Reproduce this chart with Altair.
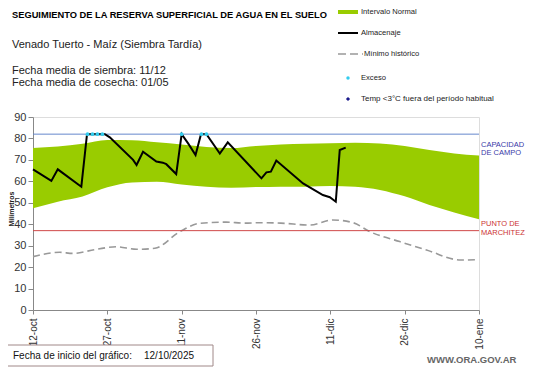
import json
import altair as alt
import pandas as pd

# ---------------- data ----------------
tick_days = [0, 15, 30, 45, 60, 75, 90]
tick_labels = ["12-oct", "27-oct", "11-nov", "26-nov", "11-dic", "26-dic", "10-ene"]
y_ticks = [0, 10, 20, 30, 40, 50, 60, 70, 80, 90]

band_days = [0, 5, 10, 15, 20, 25, 30, 35, 40, 45, 50, 55, 60, 65, 70, 75, 80, 85, 90]
band_upper = [75.5, 76.2, 77.5, 79.3, 79.2, 78.2, 77.2, 76.0, 75.5, 76.5, 77.2, 77.5, 77.8, 78.0, 77.6, 76.5, 74.6, 73.0, 72.0]
band_lower = [47.4, 50.5, 52.9, 57.2, 59.5, 59.8, 58.5, 57.5, 57.0, 57.3, 57.5, 57.5, 57.8, 57.5, 56.0, 53.0, 49.0, 45.5, 42.3]

alm_days = [0, 3.7, 5, 9.75, 10.9, 14.5, 15.5, 20.2, 20.9, 22.2, 24.9, 26.2, 26.9, 28.9, 30,
            31.3, 32.8, 33.9, 35, 37.7, 39.3, 46.1, 47.1, 48, 49.1, 54.5, 58.5, 59.9, 61.1, 61.9, 63.1]
alm_vals = [65.6, 60.2, 65.6, 57.5, 82, 82, 80.5, 70, 67.6, 73.8, 69.2, 68.7, 68, 63.4, 82,
            77.7, 72.3, 82, 82, 73, 78.2, 61.4, 64.2, 64.5, 69.7, 59, 53.6, 52.6, 50.5, 74.6, 75.7]

min_days = [0, 5.4, 8, 12.8, 16.8, 20.9, 24.6, 29.6, 33.6, 39, 42.7, 45.8, 50, 55.9, 60.5,
            64.6, 68, 74, 79.4, 86.3, 89.6]
min_vals = [24.9, 26.9, 26.4, 28.3, 29.5, 28.3, 28.8, 36.5, 40.4, 41, 40.5, 40.7, 40.5, 39.6, 42,
            40.7, 36.5, 31.9, 28, 23.3, 23.5]

exc_days = [11, 12, 13, 14, 30, 34, 35]
exc_vals = [82, 82, 82, 82, 82, 82, 82]

capacidad = 82
marchitez = 37

FONT = "Liberation Sans"
W, H = 446, 193

band_df = pd.DataFrame({"d": band_days, "lo": band_lower, "hi": band_upper})
alm_df = pd.DataFrame({"d": alm_days, "v": alm_vals})
min_df = pd.DataFrame({"d": min_days, "v": min_vals})
exc_df = pd.DataFrame({"d": exc_days, "v": exc_vals})
ref_df = pd.DataFrame({"v": [capacidad, marchitez], "k": ["cap", "mar"]})
one = pd.DataFrame({"a": [0]})

label_expr = json.dumps(tick_labels) + "[round(datum.value/15)]"

xs = alt.Scale(domain=[0, 90], nice=False, zero=False)
ys = alt.Scale(domain=[0, 90], nice=False)

x_axis = alt.Axis(values=tick_days, labelExpr=label_expr, labelAngle=270, labelFontSize=10,
                  labelColor="#333333", labelFont=FONT, domainColor="#888888", tickColor="#888888",
                  tickSize=4, grid=False, title=None, labelPadding=4, labelOverlap=False)
y_axis = alt.Axis(values=y_ticks, labelFontSize=11, labelColor="#333333",
                  labelFont=FONT, domainColor="#888888", tickColor="#888888", tickSize=5,
                  grid=False, title=None, labelPadding=2, labelOverlap=False, labelFlush=False)


def X(f):
    return alt.X(f, scale=xs, axis=x_axis)


def Y(f):
    return alt.Y(f, scale=ys, axis=y_axis)


band = alt.Chart(band_df).mark_area(color="#99cc00", opacity=1, interpolate="monotone").encode(
    x=X("d:Q"), y=Y("lo:Q"), y2="hi:Q")

minl = alt.Chart(min_df).mark_line(color="#999999", strokeWidth=1.6, strokeDash=[7, 4],
                                   interpolate="monotone").encode(x=X("d:Q"), y=Y("v:Q"))

refs = alt.Chart(ref_df).mark_rule(strokeWidth=1).encode(
    y=Y("v:Q"),
    color=alt.Color("k:N", scale=alt.Scale(domain=["cap", "mar"], range=["#6688cc", "#d04848"]), legend=None))

alm = alt.Chart(alm_df).mark_line(color="#000000", strokeWidth=2).encode(x=X("d:Q"), y=Y("v:Q"))

exc = alt.Chart(exc_df).mark_point(filled=True, color="#33ccee", size=14, opacity=1).encode(
    x=X("d:Q"), y=Y("v:Q"))


def txt(t, x, y, size=11, color="#000000", weight="normal", align="left", angle=0, font=FONT):
    return alt.Chart(one).mark_text(text=t, fontSize=size, color=color, fontWeight=weight,
                                    align=align, baseline="middle", angle=angle, font=font).encode(
        x=alt.value(x), y=alt.value(y))


texts = [
    txt("SEGUIMIENTO DE LA RESERVA SUPERFICIAL DE AGUA EN EL SUELO", -21, -102, size=9.3, weight="bold"),
    txt("Venado Tuerto  - Maíz  (Siembra Tardía)", -21, -72, size=11, color="#222222"),
    txt("Fecha media de siembra: 11/12", -21, -46, size=11, color="#222222"),
    txt("Fecha media de cosecha: 01/05", -21, -34, size=11, color="#222222"),
    txt("Intervalo Normal", 328, -105, size=7.6, color="#222222"),
    txt("Almacenaje", 328, -84, size=7.6, color="#222222"),
    txt("Mínimo histórico", 331, -63, size=7.6, color="#222222"),
    txt("Exceso", 328, -39, size=7.6, color="#222222"),
    txt("Temp <3°C fuera del período habitual", 328, -18, size=8, color="#222222"),
    txt("CAPACIDAD", 448, 28, size=7.5, color="#3a3aa8"),
    txt("DE  CAMPO", 448, 36, size=7.5, color="#3a3aa8"),
    txt("PUNTO  DE", 448, 107, size=7.5, color="#cc3333"),
    txt("MARCHITEZ", 448, 116, size=7.5, color="#cc3333"),
    txt("Milímetros", -21, 92, size=7, weight="bold", align="center", angle=270, color="#222222"),
    txt("Fecha de inicio del gráfico:", -20, 239, size=10, color="#111111"),
    txt("12/10/2025", 111, 239, size=10, color="#111111"),
    txt("WWW.ORA.GOV.AR", 394, 243, size=9.5, weight="bold", color="#666666"),
]

leg_rect = alt.Chart(one).mark_rect(color="#99cc00").encode(
    x=alt.value(305), x2=alt.value(325), y=alt.value(-107), y2=alt.value(-103))
leg_line = alt.Chart(one).mark_rule(color="#000000", strokeWidth=2).encode(
    x=alt.value(305), x2=alt.value(325), y=alt.value(-84))
leg_dash = alt.Chart(one).mark_rule(color="#999999", strokeWidth=1.5, strokeDash=[8, 4]).encode(
    x=alt.value(305), x2=alt.value(330), y=alt.value(-63))
leg_exc = alt.Chart(one).mark_point(filled=True, color="#33ccee", size=12, opacity=1).encode(
    x=alt.value(315), y=alt.value(-39))
leg_tmp = alt.Chart(one).mark_point(filled=True, shape="diamond", color="#1a1a8c", size=18, opacity=1).encode(
    x=alt.value(315), y=alt.value(-18))
box = alt.Chart(one).mark_rect(fill="white", stroke="#a08888", strokeWidth=1).encode(
    x=alt.value(-27), x2=alt.value(180), y=alt.value(228), y2=alt.value(249))

chart = alt.layer(band, minl, refs, alm, exc, leg_rect, leg_line, leg_dash, leg_exc, leg_tmp, box,
                  *texts).properties(
    width=W, height=H,
    padding={"left": 25, "top": 109, "right": 54, "bottom": 57},
    autosize=alt.AutoSizeParams(type="none"),
).configure_view(stroke=None).configure(background="white")

chart.save("out.html", embed_options={"renderer": "svg", "actions": False})
